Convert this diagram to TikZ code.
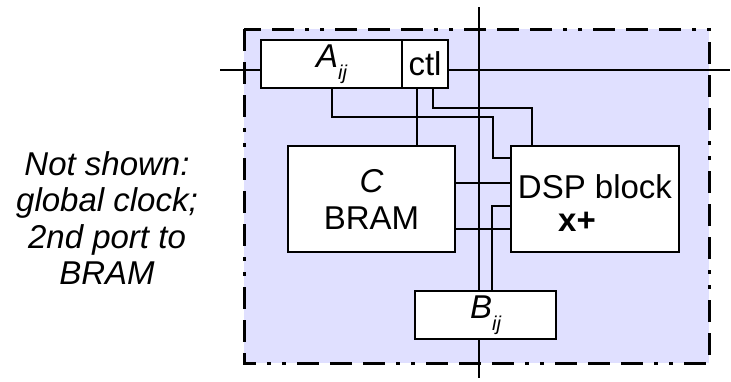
\documentclass[tikz,border=0pt]{standalone}
\usepackage{fontspec}
\setmainfont{Liberation Sans}
\definecolor{tilefill}{RGB}{224,224,255}
\newcommand\ixsub[1]{\raisebox{-0.36em}{\fontsize{20}{20}\selectfont #1}}
\begin{document}
\begin{tikzpicture}[x=1pt,y=-1pt,
  blk/.style={draw,fill=white,line width=2.6pt,inner sep=0pt,font=\fontsize{33}{37}\selectfont},
  wire/.style={line width=2pt},
  txt/.style={font=\fontsize{33}{36.5}\selectfont,inner sep=0pt}]
\useasboundingbox (0,0) rectangle (731,381);
\fill[tilefill] (244,29) rectangle (709,363);
\draw[line width=3pt,dash pattern=on 22pt off 11pt on 22pt off 11pt on 22pt off 11pt on 4pt off 11pt on 4pt off 11pt] (244,29) rectangle (709,363);
\coordinate (vtop) at (479,7);
\coordinate (vbot) at (479,378);
\coordinate (hl) at (220,70);
\coordinate (hr) at (730,70);
\node[blk,minimum width=141pt,minimum height=48pt] (A) at (331.5,64) {\itshape A\ixsub{ij}};
\node[blk,minimum width=46pt,minimum height=48pt] (ctl) at (425,64) {ctl};
\node[blk,minimum width=167pt,minimum height=106pt,align=center] (C) at (371.5,199) {\itshape C\\BRAM};
\node[blk,minimum width=168pt,minimum height=106pt] (DSP) at (595,199) {};
\node[txt] (dsptxt) at (595,187) {DSP block};
\node[txt,font=\bfseries\fontsize{33}{36.5}\selectfont] (mul) at (577,222) {x+};
\node[blk,minimum width=141pt,minimum height=48pt] (B) at (485.5,315) {\itshape B\ixsub{ij}};
\node[txt,font=\itshape\fontsize{33}{36.5}\selectfont,align=center] (note) at (107,218) {Not shown:\\global clock;\\2nd port to\\BRAM};
% row and column buses
\draw[wire] (vtop) -- (vtop |- B.north);
\draw[wire] (vtop |- B.south) -- (vbot);
\draw[wire] (hl) -- (hl -| A.west);
\draw[wire] (hr -| ctl.east) -- (hr);
% local wiring
\draw[wire] (A.south) -- ++(0,28) -| (493,158) -- (DSP.west |- 0,158);
\draw[wire] ([xshift=-8pt]ctl.south) -- ([xshift=-8pt]ctl.south |- C.north);
\draw[wire] ([xshift=8pt]ctl.south) -- ++(0,19) -| ([xshift=-63pt]DSP.north);
\draw[wire] ([yshift=16pt]C.east) -- ([yshift=16pt]C.east -| DSP.west);
\draw[wire] ([yshift=-30pt]C.east) -- ([yshift=-30pt]C.east -| DSP.west);
\draw[wire] ([xshift=6.5pt]B.north) |- ([yshift=-7pt]DSP.west);
\end{tikzpicture}
\end{document}
